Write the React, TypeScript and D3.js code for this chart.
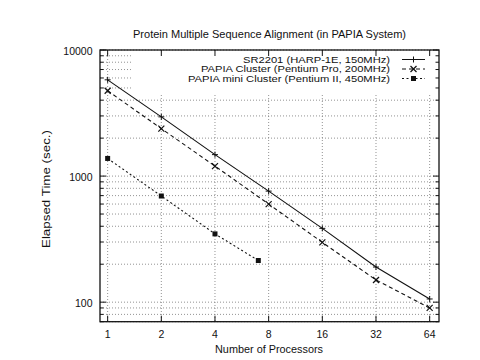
import React from "react";
import * as d3 from "d3";

const processors = [1, 2, 4, 8, 16, 32, 64];
const sr2201 = [5800, 2950, 1480, 760, 385, 190, 106];
const papiaCluster = [4750, 2380, 1200, 600, 298, 150, 90];
const miniProcessors = [1, 2, 4, 7];
const papiaMini = [1380, 695, 348, 214];
const yMajorTicks = [100, 1000, 10000];
const seriesNames = [
  "SR2201 (HARP-1E, 150MHz)",
  "PAPIA Cluster (Pentium Pro, 200MHz)",
  "PAPIA mini Cluster (Pentium II, 450MHz)",
];
const title = "Protein Multiple Sequence Alignment (in PAPIA System)";
const xTitle = "Number of Processors";
const yTitle = "Elapsed Time (sec.)";

const W = 480, H = 360;
const L = 100, R = 439, T = 50, B = 321.7;
const FONT = "'Liberation Sans', Arial, Helvetica, sans-serif";

export default function App() {
  const x = d3.scaleLog().base(2).domain([0.906, 72.2]).range([L, R]);
  const y = d3.scaleLog().domain([70, 10000]).range([B, T]);

  const yMinor: number[] = [];
  [10, 100, 1000].forEach((dec) => {
    for (let k = 1; k <= 9; k++) {
      const v = dec * k;
      if (v >= 70 && v <= 10000 && !yMajorTicks.includes(v)) yMinor.push(v);
    }
  });
  const yGrid = [...yMinor, ...yMajorTicks];

  const line = d3
    .line<[number, number]>()
    .x((d) => x(d[0]))
    .y((d) => y(d[1]));

  const s1 = processors.map((p, i) => [p, sr2201[i]] as [number, number]);
  const s2 = processors.map((p, i) => [p, papiaCluster[i]] as [number, number]);
  const s3 = miniProcessors.map((p, i) => [p, papiaMini[i]] as [number, number]);

  const plus = (cx: number, cy: number, k: string) => (
    <g key={k} stroke="#111" strokeWidth={1}>
      <line x1={cx - 3} x2={cx + 3} y1={cy} y2={cy} />
      <line x1={cx} x2={cx} y1={cy - 3} y2={cy + 3} />
    </g>
  );
  const cross = (cx: number, cy: number, k: string) => (
    <g key={k} stroke="#111" strokeWidth={1.2}>
      <line x1={cx - 3} x2={cx + 3} y1={cy - 3} y2={cy + 3} />
      <line x1={cx - 3} x2={cx + 3} y1={cy + 3} y2={cy - 3} />
    </g>
  );
  const square = (cx: number, cy: number, k: string) => (
    <rect key={k} x={cx - 2.5} y={cy - 2.5} width={5} height={5} fill="#111" />
  );

  const legX = 390;
  const legY = [59.5, 69, 78.5];
  const legW = [147, 189, 202];
  const sx1 = 402, sx2 = 425;

  return (
    <svg width={W} height={H} style={{ position: "absolute", left: 0, top: 0, background: "#fff" }} fontFamily={FONT}>
      <rect x={0} y={0} width={W} height={H} fill="#fff" />
      {/* grid */}
      <g stroke="#777" strokeWidth={0.8} strokeDasharray="1,2">
        {yGrid.map((v) => (
          <line key={"hy" + v} x1={L} x2={R} y1={y(v)} y2={y(v)} />
        ))}
        {processors.map((p) => (
          <line key={"vx" + p} x1={x(p)} x2={x(p)} y1={T} y2={B} />
        ))}
      </g>
      {/* legend backdrop */}
      <rect x={132} y={52} width={305} height={41} fill="#fff" />
      {/* ticks */}
      <g stroke="#111" strokeWidth={1}>
        {yMajorTicks.map((v) => (
          <g key={"ty" + v}>
            <line x1={L} x2={L + 6} y1={y(v)} y2={y(v)} />
            <line x1={R} x2={R - 6} y1={y(v)} y2={y(v)} />
          </g>
        ))}
        {yMinor.map((v) => (
          <g key={"tym" + v}>
            <line x1={L} x2={L + 3.5} y1={y(v)} y2={y(v)} />
            <line x1={R} x2={R - 3.5} y1={y(v)} y2={y(v)} />
          </g>
        ))}
        {processors.map((p) => (
          <g key={"tx" + p}>
            <line x1={x(p)} x2={x(p)} y1={B} y2={B - 6} />
            <line x1={x(p)} x2={x(p)} y1={T} y2={T + 6} />
          </g>
        ))}
      </g>
      {/* frame */}
      <rect x={L} y={T} width={R - L} height={B - T} fill="none" stroke="#111" strokeWidth={1.3} />
      {/* series */}
      <path d={line(s1) || ""} fill="none" stroke="#111" strokeWidth={1.1} />
      <path d={line(s2) || ""} fill="none" stroke="#111" strokeWidth={1.1} strokeDasharray="4,3" />
      <path d={line(s3) || ""} fill="none" stroke="#111" strokeWidth={1.1} strokeDasharray="2,2.5" />
      {s1.map((d, i) => plus(x(d[0]), y(d[1]), "p" + i))}
      {s2.map((d, i) => cross(x(d[0]), y(d[1]), "c" + i))}
      {s3.map((d, i) => square(x(d[0]), y(d[1]), "s" + i))}
      {/* legend */}
      <g fontSize={9.2} fill="#111">
        {seriesNames.map((n, i) => (
          <text
            key={"ln" + i}
            x={legX - legW[i]}
            y={legY[i]}
            textLength={legW[i]}
            lengthAdjust="spacingAndGlyphs"
            dominantBaseline="central"
          >
            {n}
          </text>
        ))}
      </g>
      <line x1={sx1} x2={sx2} y1={legY[0]} y2={legY[0]} stroke="#111" strokeWidth={1} />
      <line x1={sx1} x2={sx2} y1={legY[1]} y2={legY[1]} stroke="#111" strokeWidth={1} strokeDasharray="4,3" />
      <line x1={sx1} x2={sx2} y1={legY[2]} y2={legY[2]} stroke="#111" strokeWidth={1} strokeDasharray="2,2.5" />
      {plus((sx1 + sx2) / 2, legY[0], "lp")}
      {cross((sx1 + sx2) / 2, legY[1], "lc")}
      {square((sx1 + sx2) / 2, legY[2], "ls")}
      {/* tick labels */}
      <g fontSize={10.5} fill="#111">
        {yMajorTicks.map((v) => (
          <text key={"yl" + v} x={92.5} y={y(v) + 1} textAnchor="end" dominantBaseline="central">
            {String(v)}
          </text>
        ))}
        {processors.map((p) => (
          <text key={"xl" + p} x={x(p)} y={333.5} textAnchor="middle" dominantBaseline="central">
            {String(p)}
          </text>
        ))}
      </g>
      <text
        x={133}
        y={34.3}
        textLength={273}
        lengthAdjust="spacingAndGlyphs"
        dominantBaseline="central"
        fontSize={11}
        fill="#111"
      >
        {title}
      </text>
      <text
        x={215}
        y={349.3}
        textLength={108}
        lengthAdjust="spacingAndGlyphs"
        dominantBaseline="central"
        fontSize={11}
        fill="#111"
      >
        {xTitle}
      </text>
      <text
        transform={`translate(46,248) rotate(-90)`}
        textLength={118}
        lengthAdjust="spacingAndGlyphs"
        dominantBaseline="central"
        fontSize={11}
        fill="#111"
      >
        {yTitle}
      </text>
    </svg>
  );
}
